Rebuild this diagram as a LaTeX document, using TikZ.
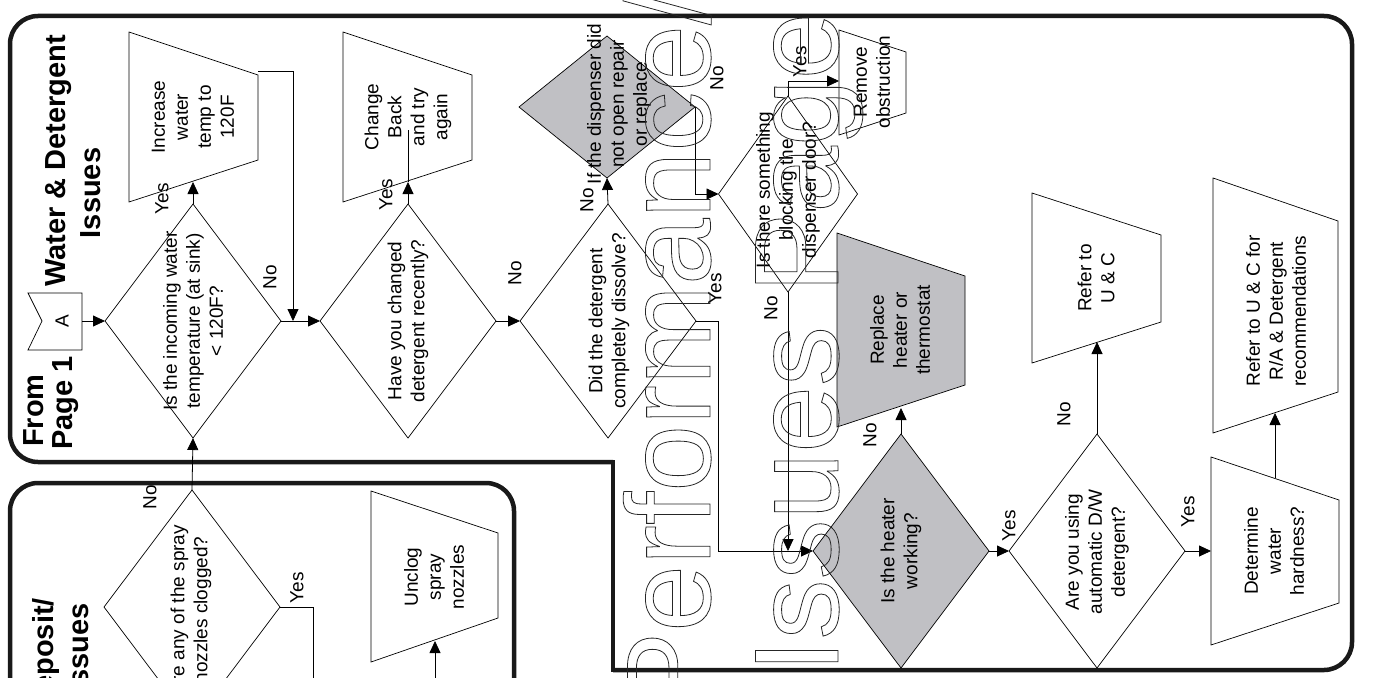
\documentclass[tikz,border=0pt]{standalone}
\usepackage{fontspec}
\setmainfont{Liberation Sans}
\usetikzlibrary{arrows.meta,shapes.geometric}
\definecolor{shade}{RGB}{192,192,196}
\definecolor{framec}{RGB}{25,25,25}
\newcommand\outl[1]{\special{pdf:literal direct 1 Tr 0.8 w}#1}
\begin{document}
\begin{tikzpicture}[x=1pt,y=-1pt,
  frame/.style={line width=4.5pt, draw=framec},
  dia/.style={draw, shape=diamond, inner sep=0pt, outer sep=0pt, line width=0.7pt},
  gdia/.style={dia, fill=shade},
  trap/.style={draw, line width=0.7pt, line join=miter},
  gtrap/.style={trap, fill=shade},
  txt/.style={rotate=90, align=center, inner sep=0pt, font=\fontsize{19}{23}\selectfont},
  ttl/.style={rotate=90, inner sep=0pt, font=\fontsize{29}{35}\selectfont\bfseries},
  wm/.style={rotate=90, inner sep=0pt, font=\fontsize{120}{120}\selectfont, text=black!85},
  arr/.style={-{Triangle[length=12pt,width=11pt]}, line width=0.8pt},
  ln/.style={line width=0.8pt}]
\useasboundingbox (0,0) rectangle (1375,677);
\clip (0,0) rectangle (1375,677);

% frames
\draw[frame, rounded corners=28pt] (613,462) -- (10,462) -- (10,16) -- (1352,16) -- (1352,670) -- (613,670);
\draw[frame, line cap=rect] (613,670) -- (613,462);
\draw[frame, rounded corners=28pt] (10,700) -- (10,483) -- (514,483) -- (514,700);

% off-page connector
\draw[trap] (28,293) -- (82,293) -- (82,350) -- (28,350) -- (42,321) -- cycle;
\coordinate (Aout) at (82,321);
\node[txt] (Alab) at (62,321) {A};

% trapezoids
\draw[trap] (129,32) -- (258,75) -- (258,160) -- (129,202) -- cycle;
\draw[trap] (343,32) -- (472,75) -- (472,160) -- (343,202) -- cycle;
\draw[trap] (839,30) -- (906,52) -- (906,113) -- (839,135) -- cycle;
\draw[gtrap] (837,233) -- (965,276) -- (965,385) -- (837,427) -- cycle;
\draw[trap] (1032,193) -- (1161,235) -- (1161,322) -- (1032,363) -- cycle;
\draw[trap] (1213,178) -- (1338,221) -- (1338,392) -- (1213,433) -- cycle;
\draw[trap] (1211,457) -- (1339,500) -- (1339,603) -- (1211,645) -- cycle;
\draw[trap] (371,491) -- (498,533) -- (498,618) -- (371,662) -- cycle;

% diamonds
\node[dia, minimum width=176pt, minimum height=234pt] (d1) at (193,321) {};
\node[dia, minimum width=176pt, minimum height=234pt] (d2) at (408,321) {};
\node[dia, minimum width=176pt, minimum height=234pt] (d3) at (608,321) {};
\node[gdia, minimum width=176pt, minimum height=142pt] (d4) at (607,107) {};
\node[dia, minimum width=139pt, minimum height=196pt] (d5) at (788,194) {};
\node[gdia, minimum width=176pt, minimum height=234pt] (d6) at (901,551) {};
\node[dia, minimum width=176pt, minimum height=234pt] (d7) at (1097,551) {};
\node[dia, minimum width=176pt, minimum height=234pt] (d8) at (192,607) {};

% connector points
\coordinate (t1in) at (193,182);
\coordinate (t1out) at (258,71);
\coordinate (j0) at (293,321);
\coordinate (t2in) at (408,182);
\coordinate (t2c) at (408,130);
\coordinate (j1) at (718,551);
\coordinate (t3in) at (839,81);
\coordinate (j2) at (788,551);
\coordinate (t4in) at (901,408);
\coordinate (t5in) at (1097,342);
\coordinate (t7in) at (1211,551);
\coordinate (t7out) at (1275,478);
\coordinate (t6in) at (1275,413);
\coordinate (y8) at (313,700);
\coordinate (t8src) at (435,700);
\coordinate (t8in) at (435,641);

% connectors
\draw[arr] (Aout) -- (d1.west);
\draw[arr] (d1.north) -- (t1in);
\draw[arr] (d1.east) -- (d2.west);
\draw[arr] (t1out) -| (j0);
\draw[arr] (d2.north) -- (t2in);
\draw[ln] (t2in) -- (t2c);
\draw[arr] (d2.east) -- (d3.west);
\draw[arr] (d3.north) -- (d4.south);
\draw[arr] (d3.east) -| (j1) -- (d6.west);
\draw[arr] (d4.east) |- (d5.west);
\draw[arr] (d5.north) |- (t3in);
\draw[arr] (d5.south) -- (j2);
\draw[arr] (d6.north) -- (t4in);
\draw[arr] (d6.east) -- (d7.west);
\draw[arr] (d7.north) -- (t5in);
\draw[arr] (d7.east) -- (t7in);
\draw[arr] (t7out) -- (t6in);
\draw[arr] (d8.north) -- (d1.south);
\draw[ln] (d8.east) -| (y8);
\draw[arr] (t8src) -- (t8in);

% connector labels
\node[txt] (l1) at (162,199) {Yes};
\node[txt] (l2) at (270,277) {No};
\node[txt] (l3) at (386,195) {Yes};
\node[txt] (l4) at (515,273) {No};
\node[txt] (l5) at (587,200) {No};
\node[txt] (l6) at (715,289) {Yes};
\node[txt] (l7) at (717,78) {No};
\node[txt] (l8) at (800,62) {Yes};
\node[txt] (l9) at (771,308) {No};
\node[txt] (l10) at (870,435) {No};
\node[txt] (l11) at (1009,526) {Yes};
\node[txt] (l12) at (1064,414) {No};
\node[txt] (l13) at (1188,512) {Yes};
\node[txt] (l14) at (150,497) {No};
\node[txt] (l15) at (297,588) {Yes};

% box texts
\node[txt] (x1) at (193,117) {Increase\\water\\temp to\\120F};
\node[txt] (x2) at (408,117) {Change\\Back\\and try\\again};
\node[txt] (x3) at (872,82) {Remove\\obstruction};
\node[txt] (x4) at (900,330) {Replace\\heater or\\thermostat};
\node[txt] (x5) at (1096,278) {Refer to\\U \& C};
\node[txt] (x6) at (1276,311) {Refer to U \& C for\\R/A \& Detergent\\recommendations};
\node[txt] (x7) at (1274,551) {Determine\\water\\hardness?};
\node[txt] (x8) at (434,577) {Unclog\\spray\\nozzles};

% diamond texts
\node[txt] (q1) at (193,321) {Is the incoming water\\temperature (at sink)\\< 120F?};
\node[txt] (q2) at (408,321) {Have you changed\\detergent recently?};
\node[txt] (q3) at (609,321) {Did the detergent\\completely dissolve?};
\node[txt] (q4) at (619,104) {If the dispenser did\\not open repair\\or replace};
\node[txt] (q5) at (788,190) {Is there something\\blocking the\\dispenser door?};
\node[txt] (q6) at (901,551) {Is the heater\\working?};
\node[txt] (q7) at (1097,552) {Are you using\\automatic D/W\\detergent?};
\node[txt] (q8) at (191,610) {Are any of the spray\\nozzles clogged?};

% titles
\node[ttl, anchor=base] (h1) at (65,161) {Water \& Detergent};
\node[ttl, anchor=base] (h2) at (100,193) {Issues};
\node[ttl, anchor=base west] (h3) at (43,447) {From};
\node[ttl, anchor=base west] (h4) at (72,450) {Page 1};
\node[ttl, anchor=base east] (h5) at (53,598) {Deposit/};
\node[ttl, anchor=base east] (h6) at (88,603) {Issues};

% watermark (outlined)
\node[wm, anchor=base west] (wm1) at (710,712) {\outl{Performance/}};
\node[wm, anchor=base west] (wm2) at (838,673) {\outl{Issues Page}};
\end{tikzpicture}
\end{document}
